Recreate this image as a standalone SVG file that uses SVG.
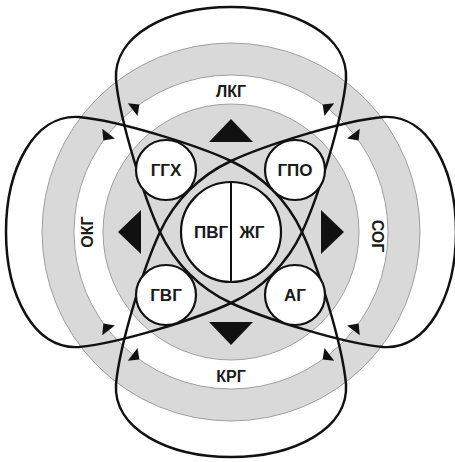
<svg xmlns="http://www.w3.org/2000/svg" xmlns:xlink="http://www.w3.org/1999/xlink" width="455" height="462" viewBox="0 0 455 462">
<style>
.ring{stroke:#8c8c8c;stroke-width:0.8}
.g{fill:#d9d9d9}
.w{fill:#ffffff}
.node{fill:#ffffff;stroke:#111;stroke-width:2.2}
.loop{fill:none;stroke:#111;stroke-width:2.5;stroke-linejoin:round}
.t{font-family:"Liberation Sans",Arial,sans-serif;font-weight:bold;font-size:17px;fill:#1a1a1a;text-anchor:middle;dominant-baseline:central}
.rl{font-size:16px}
.tri{fill:#111}
</style>
<defs>
<path id="lobe" d="M160,232 C145,200 120,122 116,80 C113,35 168,7 231,7 C294,7 349,35 346,80 C342,122 317,200 302,232"/>
<path id="edge" d="M231,161 C199.7,175.6 174.6,200.7 160,232"/>
<path id="bigtri" d="M231,119 L253,142 L209,142 Z"/>
<path id="ah" d="M5,0 L-3.5,-8 L-3.5,8 Z"/>
</defs>
<rect width="455" height="462" fill="#ffffff"/>
<g id="rings">
<circle class="ring g" cx="231" cy="232" r="189"/>
<circle class="ring w" cx="231" cy="232" r="157"/>
<circle class="ring g" cx="231" cy="232" r="128"/>
</g>
<g id="ring-labels">
<g id="lkg"><text class="t rl" x="231" y="91">ЛКГ</text></g>
<g id="krg"><text class="t rl" x="231" y="376">КРГ</text></g>
<g id="okg"><text class="t rl" transform="translate(87 232) rotate(-90)">ОКГ</text></g>
<g id="sog"><text class="t rl" transform="translate(377 236) rotate(90)">СОГ</text></g>
</g>
<g id="big-triangles" class="tri">
<use xlink:href="#bigtri" href="#bigtri"/>
<use xlink:href="#bigtri" href="#bigtri" transform="rotate(90 231 232)"/>
<use xlink:href="#bigtri" href="#bigtri" transform="rotate(180 231 232)"/>
<use xlink:href="#bigtri" href="#bigtri" transform="rotate(270 231 232)"/>
</g>
<g id="connectors">
<g class="loop">
<use xlink:href="#lobe" href="#lobe"/>
<use xlink:href="#lobe" href="#lobe" transform="rotate(90 231 232)"/>
<use xlink:href="#lobe" href="#lobe" transform="rotate(180 231 232)"/>
<use xlink:href="#lobe" href="#lobe" transform="rotate(270 231 232)"/>
<use xlink:href="#edge" href="#edge"/>
<use xlink:href="#edge" href="#edge" transform="rotate(90 231 232)"/>
<use xlink:href="#edge" href="#edge" transform="rotate(180 231 232)"/>
<use xlink:href="#edge" href="#edge" transform="rotate(270 231 232)"/>
</g>
<g id="arrows" class="tri">
<use xlink:href="#ah" href="#ah" transform="rotate(52.5 231 232) translate(388 232) rotate(90)"/>
<use xlink:href="#ah" href="#ah" transform="rotate(37.5 231 232) translate(388 232) rotate(-90)"/>
<use xlink:href="#ah" href="#ah" transform="rotate(142.5 231 232) translate(388 232) rotate(90)"/>
<use xlink:href="#ah" href="#ah" transform="rotate(127.5 231 232) translate(388 232) rotate(-90)"/>
<use xlink:href="#ah" href="#ah" transform="rotate(232.5 231 232) translate(388 232) rotate(90)"/>
<use xlink:href="#ah" href="#ah" transform="rotate(217.5 231 232) translate(388 232) rotate(-90)"/>
<use xlink:href="#ah" href="#ah" transform="rotate(322.5 231 232) translate(388 232) rotate(90)"/>
<use xlink:href="#ah" href="#ah" transform="rotate(307.5 231 232) translate(388 232) rotate(-90)"/>
</g>
</g>
<g id="node-center">
<circle class="node" cx="231" cy="232" r="50"/>
<line x1="231" y1="182" x2="231" y2="282" stroke="#111" stroke-width="2"/>
<text class="t" x="211" y="232">ПВГ</text>
<text class="t" x="252" y="232">ЖГ</text>
</g>
<g id="node-ggh"><circle class="node" cx="166" cy="170" r="30"/><text class="t" x="166" y="170">ГГХ</text></g>
<g id="node-gpo"><circle class="node" cx="295" cy="170" r="30"/><text class="t" x="295" y="170">ГПО</text></g>
<g id="node-gvg"><circle class="node" cx="166" cy="295" r="30"/><text class="t" x="166" y="295">ГВГ</text></g>
<g id="node-ag"><circle class="node" cx="295" cy="295" r="30"/><text class="t" x="295" y="295">АГ</text></g>
</svg>
